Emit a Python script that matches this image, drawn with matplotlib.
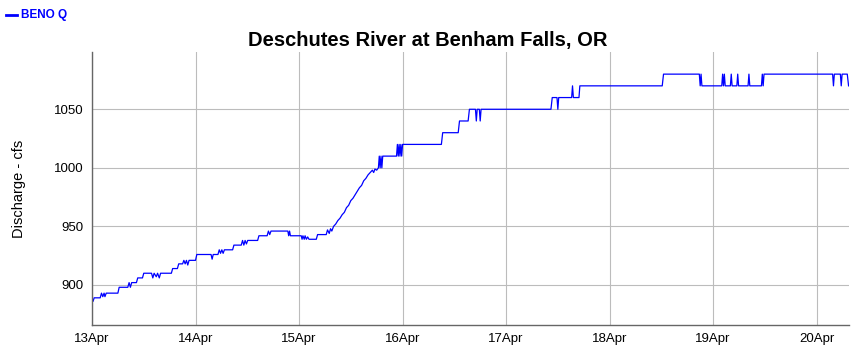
import numpy as np
import pandas as pd
import matplotlib
matplotlib.use('Agg')
import matplotlib.pyplot as plt
import matplotlib.dates as mdates
from matplotlib.lines import Line2D

# readings: hours after 13 Apr 00:00 and discharge (cfs)
hours = [0, 0.25, 0.5, 1.9, 2.2, 2.5, 2.8, 3.0, 3.3, 6.0, 6.3, 8.3, 8.6, 8.9, 9.2, 10.3, 10.6,
         11.7, 12.0, 13.8, 14.1, 14.4, 14.9, 15.2, 15.6, 15.9, 18.4, 18.7, 19.8, 20.1, 21.0,
         21.3, 21.6, 21.9, 22.2, 22.5, 24.0, 24.3, 27.6, 27.85, 28.1, 29.2, 29.5, 29.8, 30.1,
         30.4, 30.7, 32.6, 32.9, 34.6, 34.9, 35.2, 35.5, 35.8, 36.1, 38.4, 38.7, 40.6, 40.9,
         41.2, 41.5, 45.4, 45.6, 45.8, 46.0, 48.5, 48.7, 48.9, 49.2, 49.4, 49.7, 50.0, 50.3,
         52.0, 52.3, 54.3, 54.6, 55.0, 55.3, 55.6, 56.0, 56.5, 57.0, 57.5, 58.0, 58.5, 59.0,
         59.5, 60.0, 60.5, 61.0, 61.5, 62.0, 62.5, 63.0, 63.5, 64.0, 64.5, 65.0, 65.3, 65.6,
         66.0, 66.4, 66.6, 66.8, 67.0, 67.2, 67.4, 70.6, 70.8, 71.0, 71.2, 71.4, 71.6, 71.8,
         72.0, 81.0, 81.3, 84.9, 85.2, 87.2, 87.5, 88.9, 89.1, 89.3, 89.8, 90.0, 90.2, 106.4,
         106.7, 107.8, 108.0, 108.2, 111.2, 111.4, 111.6, 112.9, 113.1, 132.2, 132.5, 140.8,
         141.0, 141.2, 141.4, 146.0, 146.2, 146.4, 146.6, 146.8, 148.0, 148.2, 148.4, 149.5,
         149.7, 149.9, 152.1, 152.3, 152.5, 155.2, 155.4, 155.6, 155.8, 171.7, 171.9, 172.1,
         173.5, 173.7, 173.9, 175.1, 175.4]
cfs = [889, 886, 889, 889, 893, 890, 893, 890, 893, 893, 898, 898, 902, 898, 902, 902, 906,
       906, 910, 910, 906, 910, 907, 910, 906, 910, 910, 914, 914, 918, 918,
       921, 918, 921, 917, 921, 921, 926, 926, 922, 926, 926, 930, 927, 930,
       927, 930, 930, 934, 934, 938, 934, 938, 935, 938, 938, 942, 942, 946,
       943, 946, 946, 942, 946, 942, 942, 939, 942, 939, 942, 939, 941, 939,
       939, 943, 943, 947, 944, 948, 946, 950, 952, 955, 957, 960, 962, 966,
       968, 972, 974, 977, 980, 983, 985, 989, 991, 994, 996, 998, 996, 999,
       998, 1000, 1010, 1000, 1010, 1000, 1010, 1010, 1020, 1010, 1020, 1010, 1020, 1010,
       1020, 1020, 1030, 1030, 1040, 1040, 1050, 1050, 1040, 1050, 1050, 1040, 1050, 1050,
       1060, 1060, 1050, 1060, 1060, 1070, 1060, 1060, 1070, 1070, 1080, 1080,
       1070, 1080, 1070, 1070, 1080, 1070, 1080, 1070, 1070, 1080, 1070, 1070,
       1080, 1070, 1070, 1080, 1070, 1070, 1080, 1070, 1080, 1080, 1070, 1080,
       1080, 1070, 1080, 1080, 1070]

start = pd.Timestamp('2024-04-13 00:00')
times = start + pd.to_timedelta(hours, unit='h')
day_ticks = pd.date_range(start, periods=8, freq='D')

plt.rcParams['font.family'] = ['Liberation Sans', 'DejaVu Sans']

fig = plt.figure(figsize=(8.66, 3.54), dpi=100)
ax = fig.add_axes([92 / 866, 1 - 325 / 354, (849 - 92) / 866, (325 - 52) / 354])

ax.plot(times, cfs, color='#0000ff', linewidth=0.9)

ax.set_xlim(start, start + pd.Timedelta(hours=175.5))
ax.set_ylim(865.8, 1098.9)
ax.set_yticks([900, 950, 1000, 1050])
ax.set_xticks(day_ticks)
ax.xaxis.set_major_formatter(mdates.DateFormatter('%d%b'))

ax.grid(True, color='#bcbcbc', linewidth=0.8)
ax.set_axisbelow(True)
for side in ['top', 'right']:
    ax.spines[side].set_visible(False)
for side in ['left', 'bottom']:
    ax.spines[side].set_color('#666666')
    ax.spines[side].set_linewidth(1.0)
ax.tick_params(length=0, labelsize=9.5, pad=6, colors='#000000')

ax.set_ylabel('Discharge - cfs', fontsize=10.5, labelpad=20)
fig.text(0.494, 0.887, 'Deschutes River at Benham Falls, OR', ha='center', va='center',
         fontsize=14.5, fontweight='bold')

# legend at the top left corner
fig.lines.append(Line2D([6 / 866, 17 / 866], [1 - 15 / 354, 1 - 15 / 354],
                        transform=fig.transFigure, color='#0000ff', linewidth=2))
fig.text(21 / 866, 1 - 15 / 354, 'BENO Q', color='#0000ff', fontsize=8.5,
         fontweight='bold', va='center', ha='left')

fig.savefig('out.png', dpi=100)
